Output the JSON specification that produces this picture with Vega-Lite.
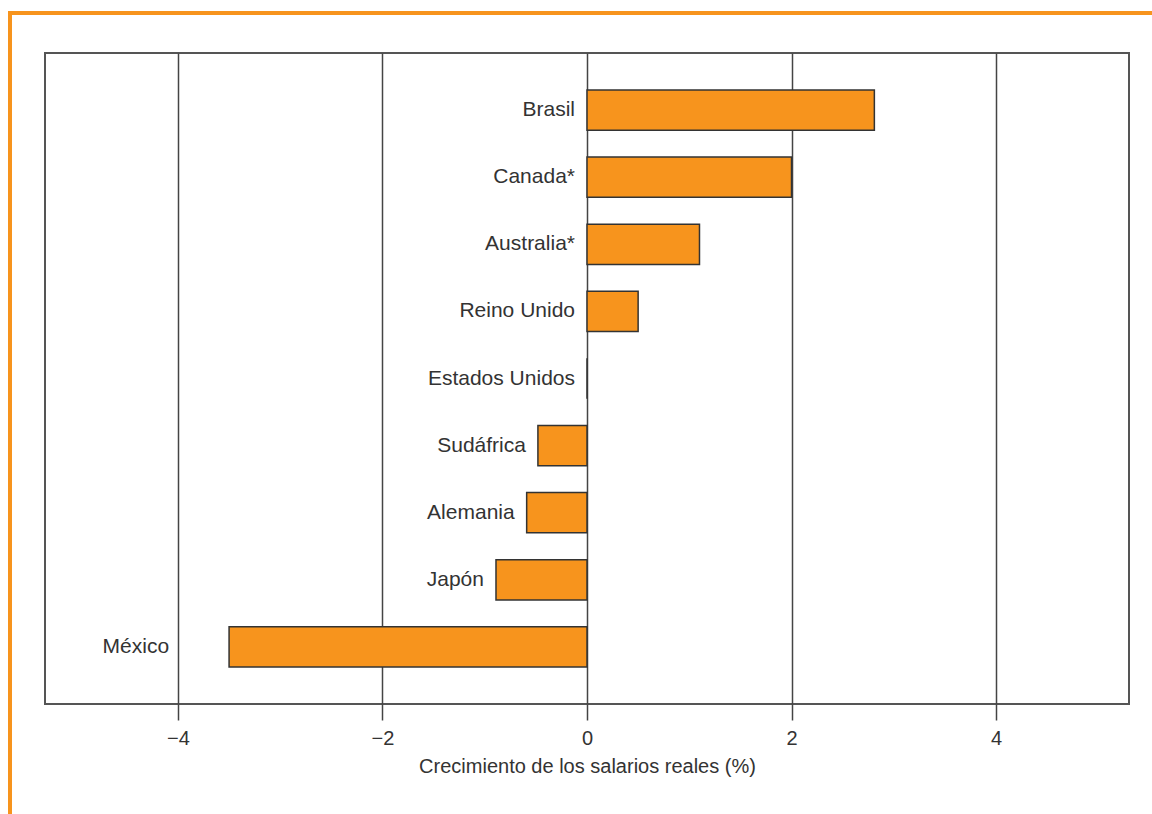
{
  "$schema": "https://vega.github.io/schema/vega-lite/v6.json",
  "padding": {"left": 8, "top": 11, "right": 0, "bottom": 0},
  "background": "white",
  "config": {"font": "Liberation Sans", "text": {"font": "Liberation Sans"}},
  "spacing": 0,
  "hconcat": [
    {
      "width": 4,
      "height": 803,
      "data": {"values": []},
      "mark": {"type": "point", "opacity": 0},
      "view": {"fill": "#F7941D", "stroke": null}
    },
    {
      "spacing": 37,
      "vconcat": [
        {
          "width": 1140,
          "height": 4,
          "data": {"values": []},
          "mark": {"type": "point", "opacity": 0},
          "view": {"fill": "#F7941D", "stroke": null}
        },
        {
          "spacing": 28,
          "hconcat": [
            {
              "width": 4,
              "height": 4,
              "data": {"values": []},
              "mark": {"type": "point", "opacity": 0},
              "view": {"fill": null, "stroke": null}
            },
            {
              "width": 1084,
              "height": 651,
              "view": {"stroke": "#555555", "strokeWidth": 2},
              "data": {
                "values": [
                  {"pais": "Brasil", "valor": 2.81},
                  {"pais": "Canada*", "valor": 2.0},
                  {"pais": "Australia*", "valor": 1.1},
                  {"pais": "Reino Unido", "valor": 0.5},
                  {"pais": "Estados Unidos", "valor": 0.0},
                  {"pais": "Sudáfrica", "valor": -0.48},
                  {"pais": "Alemania", "valor": -0.59},
                  {"pais": "Japón", "valor": -0.89},
                  {"pais": "México", "valor": -3.5}
                ]
              },
              "encoding": {
                "y": {
                  "field": "pais",
                  "type": "nominal",
                  "sort": null,
                  "axis": null,
                  "scale": {"paddingInner": 0.4, "paddingOuter": 0.55}
                }
              },
              "layer": [
                {
                  "mark": {"type": "bar", "fill": "#F7941D", "stroke": "#333333", "strokeWidth": 1.5},
                  "encoding": {
                    "x": {
                      "field": "valor",
                      "type": "quantitative",
                      "title": "Crecimiento de los salarios reales (%)",
                      "scale": {"domain": [-5.3, 5.3], "nice": false, "zero": false},
                      "axis": {
                        "values": [-4, -2, 0, 2, 4],
                        "format": "d",
                        "grid": true,
                        "gridColor": "#444444",
                        "gridWidth": 1.5,
                        "domain": false,
                        "ticks": true,
                        "tickSize": 16,
                        "tickWidth": 1.5,
                        "tickColor": "#444444",
                        "labelFontSize": 20,
                        "labelColor": "#333333",
                        "labelPadding": 8,
                        "labelFont": "Liberation Sans",
                        "titleFont": "Liberation Sans",
                        "titleFontSize": 20,
                        "titleFontWeight": "normal",
                        "titleColor": "#333333",
                        "titlePadding": 8
                      }
                    }
                  }
                },
                {
                  "transform": [
                    {"filter": "datum.pais != 'México'"},
                    {"calculate": "min(datum.valor, 0)", "as": "lx"}
                  ],
                  "mark": {"type": "text", "align": "right", "baseline": "middle", "dx": -12, "fontSize": 21, "color": "#333333"},
                  "encoding": {
                    "x": {"field": "lx", "type": "quantitative"},
                    "text": {"field": "pais"}
                  }
                },
                {
                  "transform": [
                    {"filter": "datum.pais == 'México'"}
                  ],
                  "mark": {"type": "text", "align": "right", "baseline": "middle", "dx": -60, "fontSize": 21, "color": "#333333"},
                  "encoding": {
                    "x": {"field": "valor", "type": "quantitative"},
                    "text": {"field": "pais"}
                  }
                }
              ]
            }
          ]
        }
      ]
    }
  ]
}
